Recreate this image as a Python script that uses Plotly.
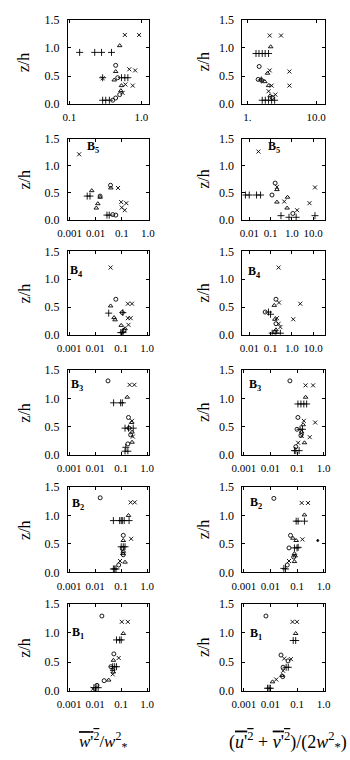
import plotly.graph_objects as go

# ---------------- data (x, z/h) per panel and symbol ----------------
# Row 0 (no label)
top_w_plus = [(0.139,0.92),(0.225,0.92),(0.28,0.92),(0.385,0.92),(0.29,0.47),(0.53,0.47),(0.59,0.47),(0.65,0.47),(0.29,0.07),(0.32,0.07),(0.36,0.07)]
top_w_cross = [(0.59,1.23),(0.93,1.23),(0.68,0.62),(0.82,0.6),(0.6,0.35),(0.76,0.33),(0.55,0.2),(0.29,0.46)]
top_w_circle = [(0.44,0.69),(0.47,0.47),(0.4,0.07),(0.44,0.11),(0.5,0.17)]
top_w_tri = [(0.44,0.58),(0.5,1.04),(0.42,0.43),(0.53,0.33),(0.52,0.24)]

top_uv_plus = [(1.34,0.9),(1.48,0.9),(1.65,0.9),(1.82,0.9),(2.04,0.9),(1.6,0.43),(1.65,0.07),(1.83,0.07),(2.04,0.07),(2.26,0.07),(2.5,0.07)]
top_uv_cross = [(2.12,1.22),(3.1,1.22),(2.12,0.6),(4.1,0.58),(2.26,0.33),(4.1,0.33),(2.04,0.23),(2.56,0.17)]
top_uv_circle = [(1.49,0.67),(1.44,0.44),(1.6,0.43),(2.3,0.12)]
top_uv_tri = [(2.19,1.02),(1.97,0.55),(1.8,0.40),(2.04,0.33),(2.15,0.15)]

# B5
b5_w_plus = [(0.0047,0.44),(0.006,0.44),(0.027,0.09),(0.033,0.09)]
b5_w_cross = [(0.0023,1.21),(0.072,0.59),(0.095,0.33),(0.15,0.31),(0.1,0.23),(0.13,0.18)]
b5_w_circle = [(0.0147,0.44),(0.037,0.64),(0.045,0.1),(0.059,0.09)]
b5_w_tri = [(0.007,0.54),(0.0147,0.42),(0.012,0.30),(0.0105,0.22),(0.038,0.59)]

b5_uv_plus = [(0.0066,0.46),(0.01,0.46),(0.022,0.46),(0.034,0.46),(0.31,0.08),(0.74,0.05),(1.6,0.05),(12.3,0.08)]
b5_uv_cross = [(0.027,1.26),(0.2,0.61),(0.44,0.34),(1.78,0.18),(6.8,0.31),(12.3,0.6)]
b5_uv_circle = [(0.117,0.46),(0.165,0.68),(1.12,0.12)]
b5_uv_tri = [(0.2,0.56),(0.2,0.33),(0.63,0.42),(0.6,0.22)]

# B4
b4_w_plus = [(0.033,0.39),(0.115,0.40),(0.096,0.04),(0.11,0.04),(0.12,0.05)]
b4_w_cross = [(0.039,1.21),(0.18,0.56),(0.26,0.56),(0.18,0.30),(0.23,0.30),(0.19,0.18)]
b4_w_circle = [(0.062,0.64),(0.11,0.40),(0.126,0.08)]
b4_w_tri = [(0.039,0.52),(0.053,0.31),(0.058,0.27),(0.1,0.17),(0.14,0.11)]

b4_uv_plus = [(0.08,0.41),(0.1,0.37),(0.12,0.03),(0.18,0.03),(0.29,0.03)]
b4_uv_cross = [(0.24,1.21),(0.25,0.58),(2.5,0.56),(0.2,0.30),(1.17,0.28),(0.24,0.2),(0.29,0.14)]
b4_uv_circle = [(0.18,0.64),(0.056,0.41),(0.18,0.2),(0.16,0.05)]
b4_uv_tri = [(0.15,0.53),(0.16,0.28),(0.18,0.09)]

# B3
b3_w_plus = [(0.051,0.92),(0.095,0.92),(0.11,0.92),(0.14,0.47),(0.19,0.47),(0.29,0.47),(0.15,0.13),(0.14,0.06),(0.18,0.06)]
b3_w_cross = [(0.21,1.24),(0.32,1.24),(0.26,0.6),(0.28,0.32)]
b3_w_circle = [(0.031,1.31),(0.19,0.66),(0.2,0.47),(0.23,0.35),(0.18,0.19)]
b3_w_tri = [(0.17,1.02),(0.25,0.57),(0.26,0.4),(0.26,0.22)]

b3_uv_plus = [(0.108,0.9),(0.14,0.9),(0.18,0.9),(0.23,0.9),(0.13,0.45),(0.16,0.45),(0.08,0.07),(0.09,0.07),(0.12,0.07)]
b3_uv_cross = [(0.21,1.23),(0.4,1.23),(0.18,0.6),(0.48,0.57),(0.3,0.31),(0.15,0.33),(0.11,0.21)]
b3_uv_circle = [(0.054,1.31),(0.108,0.66),(0.1,0.45),(0.14,0.34),(0.09,0.14)]
b3_uv_tri = [(0.21,1.02),(0.17,0.53),(0.15,0.40),(0.19,0.21)]

# B2
b2_w_plus = [(0.05,0.91),(0.087,0.91),(0.1,0.91),(0.11,0.91),(0.13,0.91),(0.2,0.91),(0.1,0.45),(0.12,0.45),(0.14,0.45),(0.05,0.06),(0.056,0.06),(0.063,0.06)]
b2_w_cross = [(0.23,1.23),(0.33,1.23),(0.24,0.59),(0.09,0.2)]
b2_w_circle = [(0.0155,1.31),(0.12,0.65),(0.11,0.42),(0.12,0.31),(0.08,0.13)]
b2_w_tri = [(0.19,1.0),(0.12,0.56),(0.12,0.37),(0.115,0.33),(0.14,0.18)]

b2_uv_plus = [(0.093,0.9),(0.11,0.9),(0.19,0.9),(0.08,0.43),(0.1,0.43),(0.11,0.44),(0.032,0.07),(0.037,0.06)]
b2_uv_cross = [(0.15,1.22),(0.26,1.22),(0.16,0.58),(0.05,0.2)]
b2_uv_circle = [(0.0135,1.3),(0.057,0.65),(0.05,0.43),(0.075,0.27),(0.043,0.13)]
b2_uv_tri = [(0.19,1.01),(0.07,0.6),(0.093,0.56),(0.08,0.33),(0.085,0.29),(0.08,0.19)]
b2_uv_dot = [(0.6,0.56)]

# B1
b1_w_plus = [(0.066,0.88),(0.087,0.88),(0.1,0.88),(0.047,0.42),(0.056,0.42),(0.066,0.42),(0.0089,0.06),(0.0108,0.06),(0.013,0.06)]
b1_w_cross = [(0.105,1.19),(0.18,1.19),(0.08,0.57),(0.047,0.29),(0.0082,0.04)]
b1_w_circle = [(0.018,1.29),(0.052,0.64),(0.04,0.42),(0.022,0.18),(0.0117,0.1)]
b1_w_tri = [(0.12,0.99),(0.05,0.53),(0.047,0.37),(0.05,0.33),(0.033,0.19)]

b1_uv_plus = [(0.072,0.87),(0.089,0.87),(0.039,0.41),(0.047,0.41),(0.0078,0.05),(0.0089,0.05),(0.01,0.05)]
b1_uv_cross = [(0.068,1.19),(0.1,1.19),(0.033,0.56),(0.059,0.55),(0.03,0.35),(0.0166,0.2)]
b1_uv_circle = [(0.0068,1.29),(0.025,0.62),(0.046,0.52),(0.03,0.41),(0.029,0.25)]
b1_uv_tri = [(0.089,0.99),(0.027,0.27),(0.012,0.16)]

ytick_vals = [0.0, 0.5, 1.0, 1.5]
ytick_text = ["0.0", "0.5", "1.0", "1.5"]
row_labels = ["", "5", "4", "3", "2", "1"]

# ---------------- panels ----------------
panels = [
    (0, 0, dict(plus=top_w_plus, cross=top_w_cross, circle=top_w_circle, tri=top_w_tri), [0.1, 1.0], ["0.1", "1.0"], [-1.02, 0.1]),
    (0, 1, dict(plus=top_uv_plus, cross=top_uv_cross, circle=top_uv_circle, tri=top_uv_tri), [1.0, 10.0], ["1.", "10.0"], [-0.07, 1.13]),
    (1, 0, dict(plus=b5_w_plus, cross=b5_w_cross, circle=b5_w_circle, tri=b5_w_tri), [0.001, 0.01, 0.1, 1.0], ["0.001", "0.01", "0.1", "1.0"], [-3.07, 0.03]),
    (1, 1, dict(plus=b5_uv_plus, cross=b5_uv_cross, circle=b5_uv_circle, tri=b5_uv_tri), [0.01, 0.1, 1.0, 10.0], ["0.01", "0.1", "1.0", "10.0"], [-2.32, 1.56]),
    (2, 0, dict(plus=b4_w_plus, cross=b4_w_cross, circle=b4_w_circle, tri=b4_w_tri), [0.001, 0.01, 0.1, 1.0], ["0.001", "0.01", "0.1", "1.0"], [-3.05, 0.05]),
    (2, 1, dict(plus=b4_uv_plus, cross=b4_uv_cross, circle=b4_uv_circle, tri=b4_uv_tri), [0.01, 0.1, 1.0, 10.0], ["0.01", "0.1", "1.0", "10.0"], [-2.32, 1.56]),
    (3, 0, dict(plus=b3_w_plus, cross=b3_w_cross, circle=b3_w_circle, tri=b3_w_tri), [0.001, 0.01, 0.1, 1.0], ["0.001", "0.01", "0.1", "1.0"], [-3.05, 0.05]),
    (3, 1, dict(plus=b3_uv_plus, cross=b3_uv_cross, circle=b3_uv_circle, tri=b3_uv_tri), [0.001, 0.01, 0.1, 1.0], ["0.001", "0.01", "0.1", "1.0"], [-3.05, 0.05]),
    (4, 0, dict(plus=b2_w_plus, cross=b2_w_cross, circle=b2_w_circle, tri=b2_w_tri), [0.001, 0.01, 0.1, 1.0], ["0.001", "0.01", "0.1", "1.0"], [-3.05, 0.05]),
    (4, 1, dict(plus=b2_uv_plus, cross=b2_uv_cross, circle=b2_uv_circle, tri=b2_uv_tri, dot=b2_uv_dot), [0.001, 0.01, 0.1, 1.0], ["0.001", "0.01", "0.1", "1.0"], [-3.05, 0.05]),
    (5, 0, dict(plus=b1_w_plus, cross=b1_w_cross, circle=b1_w_circle, tri=b1_w_tri), [0.001, 0.01, 0.1, 1.0], ["0.001", "0.01", "0.1", "1.0"], [-3.05, 0.05]),
    (5, 1, dict(plus=b1_uv_plus, cross=b1_uv_cross, circle=b1_uv_circle, tri=b1_uv_tri), [0.001, 0.01, 0.1, 1.0], ["0.001", "0.01", "0.1", "1.0"], [-3.05, 0.05]),
]

W, H = 350, 760
col_px = [(60, 145), (244, 331)]
row_px = [(13, 99), (134, 217), (249, 334), (370, 456), (489, 576), (608, 697)]
label_px = {
    (1, 0): (86, 143), (1, 1): (277, 143),
    (2, 0): (69, 269), (2, 1): (257, 270),
    (3, 0): (70, 385), (3, 1): (257, 385),
    (4, 0): (71, 506), (4, 1): (258, 505),
    (5, 0): (71, 638), (5, 1): (258, 639),
}
zh_x = [14, 203]

SERIF = "Liberation Serif, DejaVu Serif, serif"
symbols = {
    "plus": ("cross-thin-open", 5),
    "cross": ("x-thin-open", 4),
    "circle": ("circle-open", 4),
    "tri": ("triangle-up-open", 4),
    "dot": ("circle", 2),
}

fig = go.Figure()
layout = dict(
    width=W, height=H, margin=dict(l=0, r=0, t=0, b=0),
    paper_bgcolor="white", plot_bgcolor="white", showlegend=False,
    font=dict(family=SERIF, color="black"),
)
annotations = []

for i, (r, c, series, tv, tt, rng) in enumerate(panels):
    n = i + 1
    xa = "x" if n == 1 else f"x{n}"
    ya = "y" if n == 1 else f"y{n}"
    x0, x1 = col_px[c]
    y0, y1 = row_px[r]
    for key, pts in series.items():
        sym, sz = symbols[key]
        fig.add_trace(go.Scatter(
            x=[p[0] for p in pts], y=[p[1] for p in pts], mode="markers",
            xaxis=xa, yaxis=ya, hoverinfo="skip",
            marker=dict(symbol=sym, size=sz, color="black",
                        line=dict(color="black", width=0.9)),
        ))
    axis_common = dict(showline=True, linecolor="black", linewidth=1, mirror="allticks",
                       ticks="inside", ticklen=3, tickcolor="black", showgrid=False,
                       zeroline=False)
    layout["xaxis" if n == 1 else f"xaxis{n}"] = dict(
        axis_common, type="log", range=rng, tickvals=tv, ticktext=tt, tickangle=0,
        domain=[x0 / W, x1 / W], anchor=ya,
        tickfont=dict(family=SERIF, size=11, color="black"), ticklabelstandoff=3,
    )
    layout["yaxis" if n == 1 else f"yaxis{n}"] = dict(
        axis_common, range=[0, 1.5], tickvals=ytick_vals, ticktext=ytick_text,
        domain=[1 - y1 / H, 1 - y0 / H], anchor=xa,
        tickfont=dict(family=SERIF, size=12, color="black"), ticklabelstandoff=5,
    )
    annotations.append(dict(
        text="z/h", x=zh_x[c] / W, y=1 - (y0 + y1) / 2 / H, xref="paper", yref="paper",
        showarrow=False, textangle=-90, font=dict(family=SERIF, size=16, color="black"),
        xanchor="center", yanchor="middle",
    ))
    if row_labels[r]:
        lx, ly = label_px[(r, c)]
        annotations.append(dict(
            text=f"<b>B<sub>{row_labels[r]}</sub></b>", x=lx / W, y=1 - ly / H,
            xref="paper", yref="paper", showarrow=False,
            font=dict(family=SERIF, size=12, color="black"),
            xanchor="center", yanchor="middle",
        ))

annotations.append(dict(
    text="<span style='text-decoration:overline'><i>w</i>'<sup>2</sup></span>/<i>w</i><sup>2</sup><sub>*</sub>",
    x=97 / W, y=1 - 748 / H, xref="paper", yref="paper", showarrow=False,
    font=dict(family=SERIF, size=17, color="black"), xanchor="center", yanchor="middle",
))
annotations.append(dict(
    text="(<span style='text-decoration:overline'><i>u</i>'<sup>2</sup></span> + <span style='text-decoration:overline'><i>v</i>'<sup>2</sup></span>)/(2<i>w</i><sup>2</sup><sub>*</sub>)",
    x=228 / W, y=1 - 748 / H, xref="paper", yref="paper", showarrow=False,
    font=dict(family=SERIF, size=18, color="black"), xanchor="left", yanchor="middle",
))

layout["annotations"] = annotations
fig.update_layout(**layout)
fig.write_html("out.html")
